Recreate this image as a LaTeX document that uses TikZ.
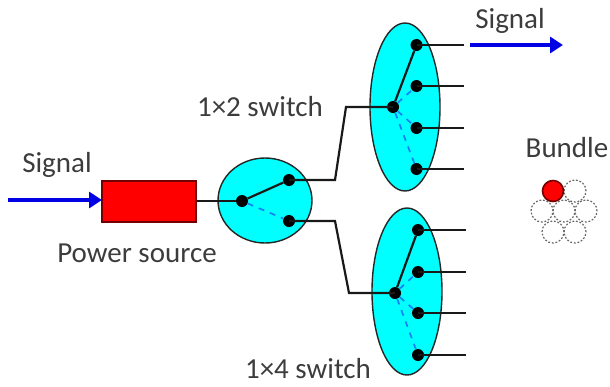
\documentclass[tikz,border=0pt]{standalone}
\usepackage{fontspec}
\setmainfont{Carlito}
\usetikzlibrary{arrows.meta,shapes.geometric}
\definecolor{txt}{RGB}{60,60,60}
\definecolor{aquafill}{RGB}{0,255,255}
\definecolor{dashblue}{RGB}{20,130,245}
\tikzset{
  swbody/.style={draw=black!85,line width=1.4pt,fill=aquafill,ellipse,inner sep=0pt},
  dotnode/.style={circle,fill=black,inner sep=0pt,minimum size=12pt},
  wire/.style={draw=black!90,line width=2.2pt},
  ghost/.style={draw=dashblue,line width=1.7pt,dash pattern=on 6pt off 6pt},
  sigarrow/.style={draw=blue!90!black,line width=4pt,-{Triangle[length=13pt,width=16pt]}},
  label/.style={text=txt,font=\fontsize{29}{31}\selectfont,inner sep=0pt},
  fibre/.style={circle,draw=black!60,line width=1.2pt,dash pattern=on 1.8pt off 1.8pt,minimum size=22pt,inner sep=0pt},
}
\begin{document}
\begin{tikzpicture}[x=1pt,y=-1pt]
\useasboundingbox (0,0) rectangle (610,386);
% bodies
\node[swbody,minimum width=94pt,minimum height=85pt] (e0) at (265,200.5) {};
\node[swbody,minimum width=70pt,minimum height=168pt] (e1) at (405,107) {};
\node[swbody,minimum width=70pt,minimum height=167pt] (e2) at (407,291.5) {};
% source
\node[draw=red!45!black,line width=1.3pt,fill=red,minimum width=94pt,minimum height=41pt,inner sep=0pt] (src) at (149,201.5) {};
% dots
\node[dotnode] (c0) at (242,201) {};
\node[dotnode] (c1) at (289,180) {};
\node[dotnode] (c2) at (289,221) {};
\node[dotnode] (t0) at (393,107) {};
\node[dotnode] (t1) at (416.5,45) {};
\node[dotnode] (t2) at (416.5,86) {};
\node[dotnode] (t3) at (416.5,128) {};
\node[dotnode] (t4) at (416.5,169) {};
\node[dotnode] (b0) at (395,293) {};
\node[dotnode] (b1) at (418,230) {};
\node[dotnode] (b2) at (418,272) {};
\node[dotnode] (b3) at (418,313) {};
\node[dotnode] (b4) at (418,355) {};
% free ends
\coordinate (te1) at (464,45);
\coordinate (te2) at (464,86);
\coordinate (te3) at (464,128);
\coordinate (te4) at (464,169);
\coordinate (be1) at (466,230);
\coordinate (be2) at (466,272);
\coordinate (be3) at (466,313);
\coordinate (be4) at (466,355);
\coordinate (k1) at (335,180);
\coordinate (k2) at (346,107);
\coordinate (k3) at (335,221);
\coordinate (k4) at (349,293);
\coordinate (s1) at (8,200);
\coordinate (s2) at (102,200);
\coordinate (s3) at (470,45);
\coordinate (s4) at (563,45);
% dashed
\draw[ghost] (c0) -- (c2);
\draw[ghost] (t0) -- (t2);
\draw[ghost] (t0) -- (t3);
\draw[ghost] (t0) -- (t4);
\draw[ghost] (b0) -- (b2);
\draw[ghost] (b0) -- (b3);
\draw[ghost] (b0) -- (b4);
% wires
\draw[wire] (src.east |- c0) -- (c0);
\draw[wire] (c0) -- (c1);
\draw[wire] (t0) -- (t1);
\draw[wire] (b0) -- (b1);
\draw[wire,line join=miter] (c1.center) -- (k1) -- (k2) -- (t0.center);
\draw[wire,line join=miter] (c2.center) -- (k3) -- (k4) -- (b0.center);
\foreach \n in {1,2,3,4}{
  \draw[wire] (t\n.center) -- (te\n);
  \draw[wire] (b\n.center) -- (be\n);
}
% arrows
\draw[sigarrow] (s1) -- (s2);
\draw[sigarrow] (s3) -- (s4);
% bundle
\node[fibre] (f2) at (575,191) {};
\node[fibre] (f3) at (542,211) {};
\node[fibre] (f4) at (564,211) {};
\node[fibre] (f5) at (586,211) {};
\node[fibre] (f6) at (553,232) {};
\node[fibre] (f7) at (575,232) {};
\node[circle,draw=red!45!black,line width=1.6pt,fill=red,minimum size=21pt,inner sep=0pt] (f1) at (553,191) {};
% labels
\node[label] (l1) at (57,165) {Signal};
\node[label] (l2) at (510,21) {Signal};
\node[label] (l3) at (567,148) {Bundle};
\node[label] (l4) at (260,107) {1×2 switch};
\node[label] (l5) at (137,253) {Power source};
\node[label] (l6) at (308,369) {1×4 switch};
\end{tikzpicture}
\end{document}
